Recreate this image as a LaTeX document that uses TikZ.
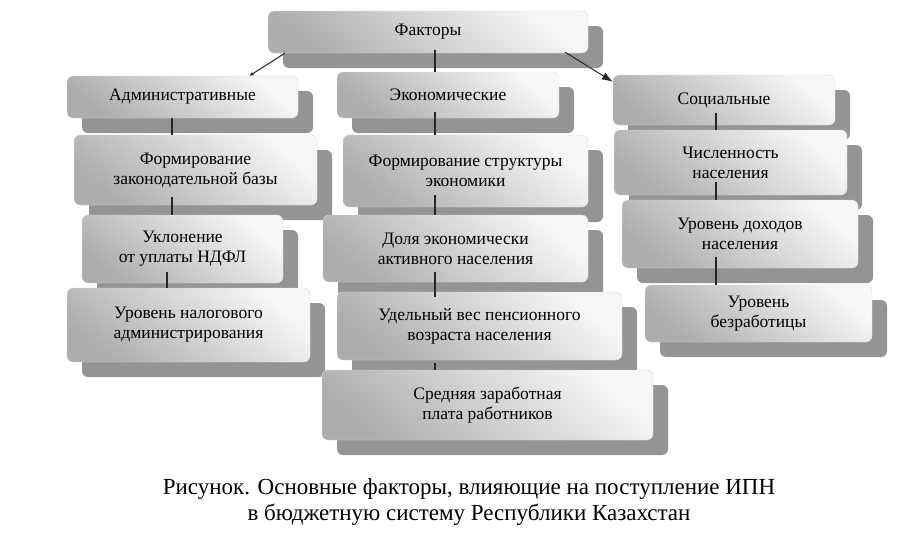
\documentclass[tikz,border=0pt]{standalone}
\usepackage{fontspec}
\setmainfont{LiberationSerif}[Extension=.ttf, UprightFont=*-Regular, BoldFont=*-Bold]
\usetikzlibrary{shadows,calc,arrows.meta}

\tikzset{
  factor/.style={rounded corners=6pt, draw=gray!30, top color=gray!6, bottom color=gray!64,
    shading angle=-40,
    drop shadow={shadow xshift=15pt, shadow yshift=-15pt, fill=black!42, opacity=1},
    align=center, inner sep=0pt, text=black, font=\fontsize{17.5}{20}\selectfont},
  link/.style={line width=1.3pt, black!85},
}

\begin{document}
\begin{tikzpicture}[x=1pt, y=-1pt]
  \useasboundingbox (0,0) rectangle (923,533);
  % top
  \node[factor, minimum width=320pt, minimum height=42pt] (fakt) at (428,32) {Факторы};
  % administrative
  \node[factor, minimum width=231pt, minimum height=42pt] (adm) at (182.5,97) {Административные};
  \node[factor, minimum width=243pt, minimum height=70pt] (zak) at (195.5,170) {Формирование\\законодательной базы};
  \node[factor, minimum width=201pt, minimum height=68pt] (ukl) at (182.5,249) {Уклонение\\от уплаты НДФЛ};
  \node[factor, minimum width=243pt, minimum height=74pt] (nal) at (188.5,325) {Уровень налогового\\администрирования};
  % economic
  \node[factor, minimum width=222pt, minimum height=46pt] (eco) at (448,95) {Экономические};
  \node[factor, minimum width=245pt, minimum height=72pt] (str) at (465.5,171) {Формирование структуры\\экономики};
  \node[factor, minimum width=265pt, minimum height=67pt] (dol) at (455.5,248.5) {Доля экономически\\активного населения};
  \node[factor, minimum width=285pt, minimum height=68pt] (ud) at (479.5,326) {Удельный вес пенсионного\\возраста населения};
  \node[factor, minimum width=331pt, minimum height=70pt] (sr) at (487.5,405) {Средняя заработная\\плата работников};
  % social
  \node[factor, minimum width=222pt, minimum height=50pt] (soc) at (724,100) {Социальные};
  \node[factor, minimum width=233pt, minimum height=65pt] (chis) at (730.5,162.5) {Численность\\населения};
  \node[factor, minimum width=236pt, minimum height=68pt] (doh) at (740,234) {Уровень доходов\\населения};
  \node[factor, minimum width=227pt, minimum height=57pt] (bez) at (758.5,313.5) {Уровень\\безработицы};

  % lines
  \coordinate (admx) at (172,0);
  \coordinate (ecox) at (435,0);
  \coordinate (socx) at (716,0);
  \draw[link] (adm.south -| admx) -- (zak.north -| admx);
  \draw[link] ([yshift=8pt]zak.south -| admx) -- (ukl.north -| admx);
  \draw[link] ([yshift=11pt,xshift=-5pt]ukl.south -| admx) -- ([xshift=-5pt]nal.north -| admx);
  \draw[link] ([yshift=3pt]fakt.south -| ecox) -- (eco.north -| ecox);
  \draw[link] ([yshift=6pt]eco.south -| ecox) -- (str.north -| ecox);
  \draw[link] ([yshift=12pt]str.south -| ecox) -- (dol.north -| ecox);
  \draw[link] ([yshift=10pt]dol.south -| ecox) -- ([yshift=-5pt]ud.north -| ecox);
  \draw[link] ([yshift=-3pt]ud.south -| ecox) -- (sr.north -| ecox);
  \draw[link] ([yshift=12pt]soc.south -| socx) -- (chis.north -| socx);
  \draw[link] ([yshift=13pt]chis.south -| socx) -- (doh.north -| socx);
  \draw[link] ([yshift=11pt]doh.south -| socx) -- (bez.north -| socx);
  % arrows
  \draw[link, line width=1pt, -{Latex[length=4pt,width=4pt]}] ($(fakt.south west)+(17,0)$) -- ($(adm.north)+(67,0)$);
  \draw[link, line width=1pt, -{Latex[length=11pt,width=8pt]}] ($(fakt.south east)+(-23,-1)$) -- ($(soc.north west)+(0,7)$);

  % caption
  \node[font=\fontsize{23}{26}\selectfont, align=center] (cap) at (469,502)
    {Рисунок. Основные факторы, влияющие на поступление ИПН\\в бюджетную систему Республики Казахстан};
\end{tikzpicture}
\end{document}
